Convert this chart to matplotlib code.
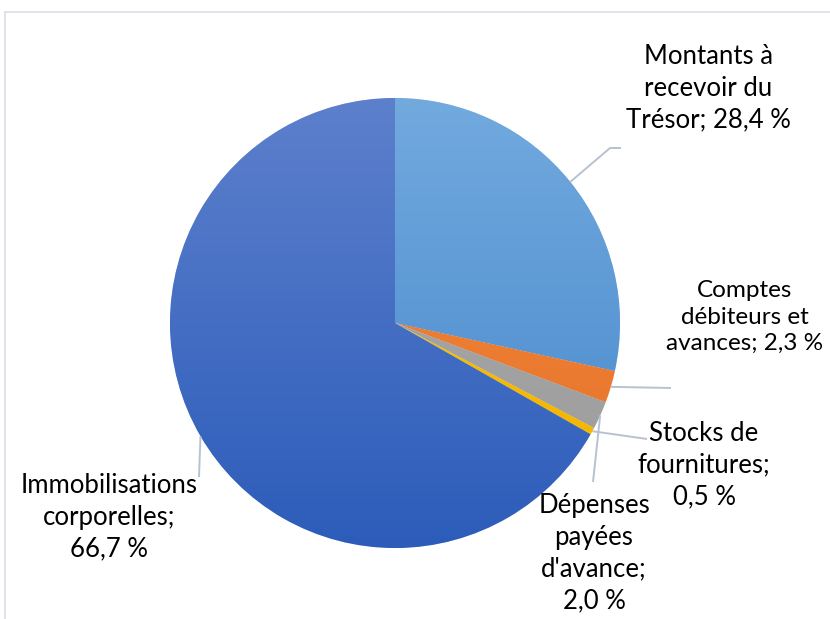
import numpy as np
import matplotlib
matplotlib.use("Agg")
import matplotlib.pyplot as plt
from matplotlib.colors import LinearSegmentedColormap

W, H = 830, 619

labels = ["Montants à\nrecevoir du\nTrésor; 28,4 %",
          "Comptes\ndébiteurs et\navances; 2,3 %",
          "Dépenses\npayées\nd'avance;\n2,0 %",
          "Stocks de\nfournitures;\n0,5 %",
          "Immobilisations\ncorporelles;\n66,7 %"]
values = [28.4, 2.3, 2.0, 0.5, 66.7]

# couleurs (haut, bas) par part
grads = [("#72aade", "#4586cb"),
         ("#f48a3a", "#e4712a"),
         ("#aaaaaa", "#9c9c9c"),
         ("#ffc20a", "#f0b400"),
         ("#5d80cc", "#2c5cba")]

# position des étiquettes (px, origine en haut), taille, coudes des rappels
lab_pos = [(708, 88), (745, 317), (594, 553), (704, 465), (109, 517)]
lab_size = [18.5, 17.5, 18.5, 18.5, 18.5]
leader_pts = [[(610, 148), (621, 148)],
              [(671, 388)],
              [(593, 482)],
              [(647, 439)],
              [(199, 477)]]

CX, CY, R = 395, 323, 225

plt.rcParams["font.family"] = ["Lato", "DejaVu Sans"]
fig = plt.figure(figsize=(W / 100, H / 100), dpi=100, facecolor="white")
ax = fig.add_axes([0, 0, 1, 1])
ax.axis("off")


def py(y):
    return H - y


wedges, _ = ax.pie(values, startangle=90, counterclock=False,
                   center=(CX, py(CY)), radius=R,
                   wedgeprops=dict(edgecolor="white", linewidth=0.4))

grad = np.linspace(0, 1, 256).reshape(-1, 1)
for w, (ct, cb) in zip(wedges, grads):
    w.set_facecolor(cb)
    cmap = LinearSegmentedColormap.from_list("g", [ct, cb])
    im = ax.imshow(grad, cmap=cmap, origin="upper", aspect="auto",
                   extent=(CX - R, CX + R, py(CY + R), py(CY - R)), zorder=1.5)
    im.set_clip_path(w)

# lignes de rappel depuis le milieu de chaque part
lc = "#b7c2d1"
for w, pts in zip(wedges, leader_pts):
    mid = np.deg2rad((w.theta1 + w.theta2) / 2)
    x0 = CX + R * np.cos(mid)
    y0 = py(CY) + R * np.sin(mid)
    xs = [x0] + [p[0] for p in pts]
    ys = [y0] + [py(p[1]) for p in pts]
    ax.plot(xs, ys, color=lc, lw=1.4, zorder=3, solid_capstyle="butt")

for txt, (x, y), fs in zip(labels, lab_pos, lab_size):
    ax.text(x, py(y), txt, ha="center", va="center", fontsize=fs,
            linespacing=1.33, color="#000000", zorder=4)

# cadre du graphique
ax.plot([5, W], [py(12), py(12)], color="#d9dee6", lw=1.2, zorder=0)
ax.plot([5, 5], [py(12), 0], color="#d9dee6", lw=1.2, zorder=0)

ax.set_xlim(0, W)
ax.set_ylim(0, H)
ax.set_aspect("auto")

fig.savefig("out.png", dpi=100, facecolor="white")
